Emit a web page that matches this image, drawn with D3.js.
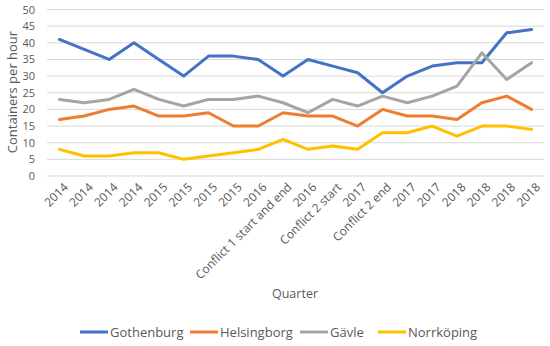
<!DOCTYPE html>
<html><head><meta charset="utf-8">
<script src="https://cdn.jsdelivr.net/npm/d3@7"></script>
<style>body{margin:0;background:#fff}svg{display:block}text{font-family:"Open Sans","Noto Sans",sans-serif}</style>
</head><body><svg id="c" width="550" height="346"></svg>
<script>
const categories = ["2014","2014","2014","2014","2015","2015","2015","2015","2016","Conflict 1 start and end","2016","Conflict 2 start","2017","Conflict 2 end","2017","2017","2018","2018","2018","2018"];
const gothenburg = [41,38,35,40,35,30,36,36,35,30,35,33,31,25,30,33,34,34,43,44];
const helsingborg = [17,18,20,21,18,18,19,15,15,19,18,18,15,20,18,18,17,22,24,20];
const gavle = [23,22,23,26,23,21,23,23,24,22,19,23,21,24,22,24,27,37,29,34];
const norrkoping = [8,6,6,7,7,5,6,7,8,11,8,9,8,13,13,15,12,15,15,14];
const seriesNames = ["Gothenburg","Helsingborg","Gävle","Norrköping"];
const yTicks = [0,5,10,15,20,25,30,35,40,45,50];

(function(){
const series = [
  {name: seriesNames[0], values: gothenburg, color: "#4472C4"},
  {name: seriesNames[1], values: helsingborg, color: "#ED7D31"},
  {name: seriesNames[2], values: gavle, color: "#A5A5A5"},
  {name: seriesNames[3], values: norrkoping, color: "#FFC000"}
];

const svg = d3.select("#c");
const mLeft = 47, mRight = 544, mTop = 9.5, mBottom = 176;
const x = d3.scalePoint().domain(d3.range(categories.length)).range([mLeft, mRight]).padding(0.5);
const y = d3.scaleLinear().domain([0, 50]).range([mBottom, mTop]);

svg.append("g").selectAll("line").data(yTicks).join("line")
  .attr("x1", mLeft).attr("x2", mRight)
  .attr("y1", d => y(d)).attr("y2", d => y(d))
  .attr("stroke", "#D9D9D9").attr("stroke-width", 1);

const yAxis = svg.append("g").attr("transform", `translate(${mLeft},0)`)
  .call(d3.axisLeft(y).tickValues(yTicks).tickSize(0).tickPadding(12));
yAxis.select(".domain").remove();
yAxis.selectAll("text").attr("fill", "#595959").style("font-size", "11px").style("font-family", '"Open Sans",sans-serif');

const xAxis = svg.append("g").attr("transform", `translate(0,${mBottom})`)
  .call(d3.axisBottom(x).tickFormat(i => categories[i]).tickSize(0).tickPadding(0));
xAxis.select(".domain").remove();
xAxis.selectAll("text")
  .attr("fill", "#595959").style("font-size", "12px").style("font-family", '"Open Sans",sans-serif')
  .attr("text-anchor", "end")
  .attr("dy", "0.35em")
  .attr("y", 0).attr("x", 0)
  .attr("transform", "translate(6,9) rotate(-45)");

const line = d3.line().x((d, i) => x(i)).y(d => y(d));
svg.append("g").selectAll("path").data(series).join("path")
  .attr("d", d => line(d.values))
  .attr("fill", "none").attr("stroke", d => d.color)
  .attr("stroke-width", 3).attr("stroke-linejoin", "round").attr("stroke-linecap", "round");

svg.append("text").attr("transform", "translate(17,92) rotate(-90)")
  .attr("text-anchor", "middle").attr("fill", "#595959").style("font-size", "13px")
  .text("Containers per hour");
svg.append("text").attr("x", 295).attr("y", 298)
  .attr("text-anchor", "middle").attr("fill", "#595959").style("font-size", "12.5px")
  .text("Quarter");

const legendX = [80, 190, 300, 378];
const lg = svg.append("g").selectAll("g").data(series).join("g")
  .attr("transform", (d, i) => `translate(${legendX[i]},332)`);
lg.append("line").attr("x1", 0).attr("x2", 28).attr("y1", 0).attr("y2", 0)
  .attr("stroke", d => d.color).attr("stroke-width", 3);
lg.append("text").attr("x", 30).attr("y", 4.5).attr("fill", "#595959")
  .style("font-size", "13px").text(d => d.name);
})();
</script></body></html>
